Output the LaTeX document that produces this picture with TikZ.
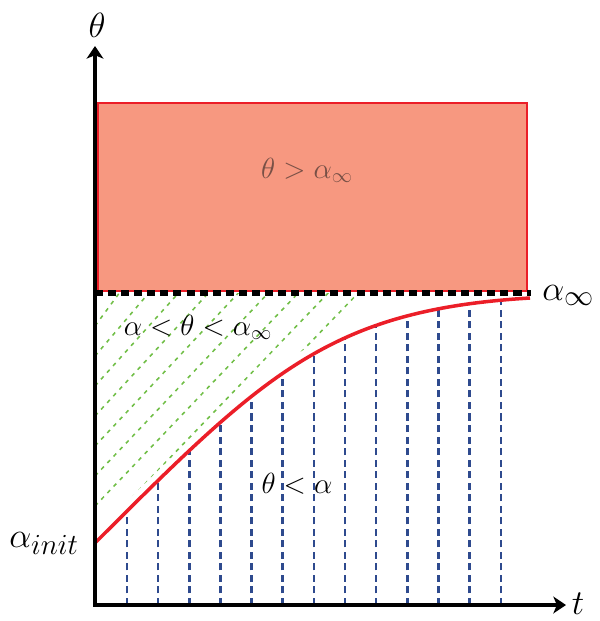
\documentclass[tikz,border=0pt]{standalone}
\usetikzlibrary{arrows.meta}

\definecolor{salmon}{RGB}{247,152,128}
\definecolor{curvered}{RGB}{235,30,40}
\definecolor{hatchgreen}{RGB}{112,190,70}
\definecolor{stepblue}{RGB}{46,74,142}
\definecolor{labelgray}{RGB}{120,80,70}

\begin{document}
\begin{tikzpicture}[x=0.025cm, y=-0.025cm]
    \tikzstyle{axis}=[line width=2.5pt, -{Stealth[length=9pt,width=12pt,inset=2.5pt]}]
    \tikzstyle{limit}=[line width=4pt, dash pattern=on 5.7pt off 3.6pt]
    \tikzstyle{response}=[line width=2.5pt, draw=curvered]
    \tikzstyle{hatch}=[line width=1.1pt, draw=hatchgreen, dash pattern=on 2.8pt off 3.6pt]
    \tikzstyle{vline}=[line width=1.8pt, draw=stepblue, dash pattern=on 5pt off 3.2pt]
    \tikzstyle{biglabel}=[inner sep=0pt, font=\fontsize{28}{30}\selectfont]
    \tikzstyle{zonelabel}=[inner sep=0pt, font=\fontsize{22}{24}\selectfont]

    \useasboundingbox (0,0) rectangle (600,621);

    % Named points of the plot
    \coordinate (O) at (95,605);
    \coordinate (tend) at (566,605);
    \coordinate (thetaend) at (95,46);
    \coordinate (ainit) at (95,543);
    \coordinate (ainf) at (530,298);
    \coordinate (limL) at (95,293);
    \coordinate (limR) at (531,293);

    % Zone above the limit
    \draw[draw=curvered, line width=0.8pt, fill=salmon] (98,103) rectangle (527,291);

    % Hatching between the curve and the limit
    \begin{scope}
        \clip (limL) -- (530,293) -- (530,288) .. controls (330,300) and (265,363) .. (95,533) -- cycle;
        \foreach \l in {296,326,...,566}
            \draw[hatch] (95,\l) -- ({\l-203},288);
    \end{scope}

    % Vertical lines under the curve
    \begin{scope}
        \clip (O) -- (ainit) .. controls (265,373) and (330,310) .. (ainf) -- (540,605) -- cycle;
        \foreach \i in {0,...,12}
            \draw[vline] ({127+31.15*\i},605) -- ({127+31.15*\i},290);
    \end{scope}

    % Limit and response curve
    \draw[limit] (limL) -- (limR);
    \draw[response] (ainit) .. controls (265,373) and (330,310) .. (ainf);

    % Axes
    \draw[axis] ([xshift=-1.25pt]O) -- (tend);
    \draw[axis] (O) -- (thetaend);

    % Labels
    \node[biglabel, anchor=base] (thetalab) at (97,37) {$\theta$};
    \node[biglabel, anchor=base] (tlab) at (578,614) {$t$};
    \node[biglabel, anchor=base east] (ainitlab) at (79,547) {$\alpha_{init}$};
    \node[biglabel, anchor=base west] (ainflab) at (542,300) {$\alpha_\infty$};
    \node[zonelabel, anchor=base, text=labelgray] (upper) at (307,178) {$\theta > \alpha_\infty$};
    \node[zonelabel, anchor=base] (middle) at (198,335) {$\alpha < \theta < \alpha_\infty$};
    \node[zonelabel, anchor=base] (lower) at (297,493) {$\theta < \alpha$};
\end{tikzpicture}
\end{document}
